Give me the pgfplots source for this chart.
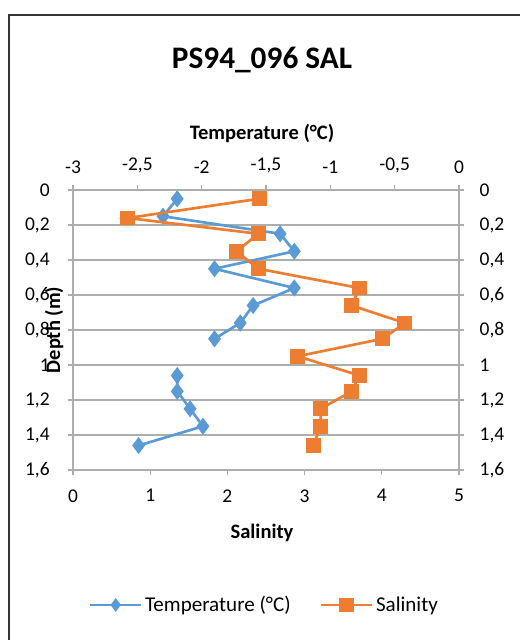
\documentclass[border=0pt]{standalone}
\usepackage{pgfplots}
\pgfplotsset{compat=1.18}
\usepackage{fontspec}
\setmainfont{Carlito}
\definecolor{tblue}{HTML}{5B9BD5}
\definecolor{sorange}{HTML}{ED7D31}
\definecolor{gridgray}{HTML}{ADADAD}
\begin{document}
\begin{tikzpicture}[x=0.75pt,y=-0.75pt]
\useasboundingbox (0,0) rectangle (519,640);
\draw[line width=1.2pt,black!80] (9,641) -- (9,15) -- (520,15);
\coordinate (SW) at (73,470);
\node[font=\fontsize{23.5}{26}\selectfont\bfseries] at (262,60) {PS94\_096 SAL};
\node[font=\fontsize{15.4}{17}\selectfont\bfseries] at (262,133) {Temperature (°C)};
\node[font=\fontsize{15.4}{17}\selectfont\bfseries] at (262,533) {Salinity};
\node[font=\fontsize{15.4}{17}\selectfont\bfseries,rotate=90] at (54,330) {Depth (m)};
\pgfplotsset{
  common/.style={
    at={(SW)}, anchor=south west,
    scale only axis, width=289.5pt, height=210pt,
    ymin=0, ymax=1.6, y dir=reverse,
    ytick={0,0.2,...,1.6},
    axis line style={gridgray, line width=0.8pt},
    major tick style={gridgray, line width=0.8pt},
    tick align=outside, major tick length=4pt,
    tick label style={font=\fontsize{14.6}{16}\selectfont},
    /pgf/number format/assume math mode=true,
    /pgf/number format/use comma,
  }
}
% Temperature axis (top, right)
\begin{axis}[common,
  xmin=-3, xmax=0, xtick={-3,-2.5,...,0},
  xtick pos=right, xticklabel pos=right,
  ytick pos=right, yticklabel pos=right,
  ymajorgrids, grid style={gridgray, line width=0.8pt},
  xticklabel style={yshift=5pt},
  yticklabel style={xshift=8pt},
  unbounded coords=jump,
]
\addplot[tblue, line width=2pt, mark=diamond*, mark size=4.8pt, mark options={solid,fill=tblue}] coordinates {
(-2.19,0.05) (-2.30,0.15) (-1.39,0.25) (-1.28,0.35) (-1.90,0.45) (-1.28,0.56)
(-1.60,0.66) (-1.70,0.76) (-1.90,0.85) (nan,0.95) (-2.19,1.06) (-2.19,1.15)
(-2.09,1.25) (-1.99,1.35) (-2.49,1.46)};
\end{axis}
% Salinity axis (bottom, left)
\begin{axis}[common,
  xmin=0, xmax=5, xtick={0,1,...,5},
  xtick pos=left, xticklabel pos=left,
  ytick pos=left, yticklabel pos=left,
  xticklabel style={yshift=-7pt},
  yticklabel style={xshift=-10pt},
  legend columns=2,
  legend style={at={(axis description cs:0.497,-0.482)}, anchor=center, draw=none, fill=none,
    font=\fontsize{15.8}{17}\selectfont, /tikz/every even column/.append style={column sep=20pt}},
  legend image code/.code={\draw[mark repeat=2,mark phase=2,#1] plot coordinates {(0pt,0pt) (19pt,0pt) (38pt,0pt)};},
]
\addlegendimage{tblue, line width=2pt, mark=diamond*, mark size=3.5pt, mark options={solid,fill=tblue}}
\addlegendentry{Temperature (°C)}
\addplot[sorange, line width=2pt, mark=square*, mark size=4.6pt, mark options={solid,fill=sorange}] coordinates {
(2.41,0.05) (0.71,0.16) (2.40,0.25) (2.12,0.35) (2.40,0.45) (3.71,0.56)
(3.61,0.66) (4.30,0.76) (4.01,0.85) (2.91,0.95) (3.71,1.06) (3.61,1.15)
(3.21,1.25) (3.21,1.35) (3.11,1.46)};
\addlegendentry{Salinity}
\end{axis}
\end{tikzpicture}
\end{document}
